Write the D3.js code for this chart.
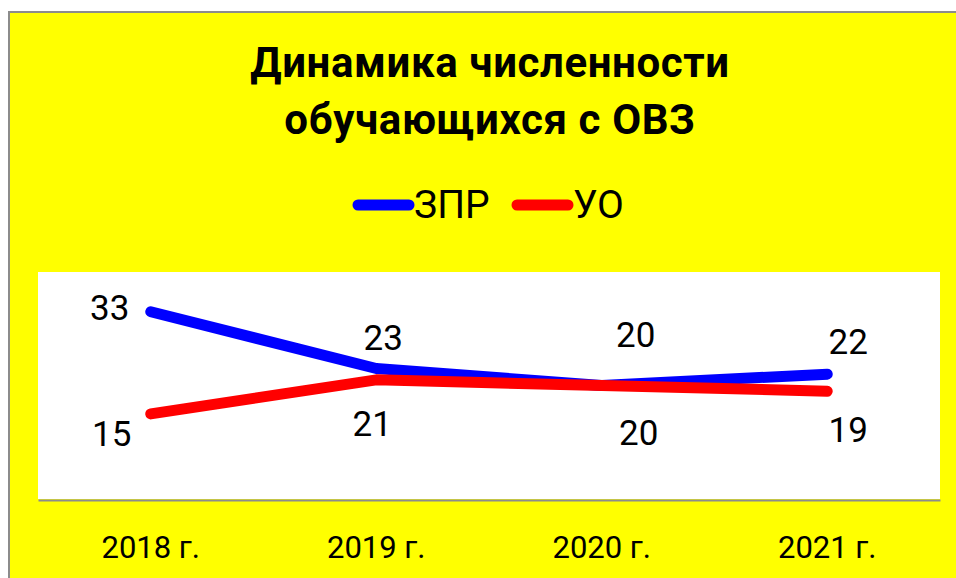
<!DOCTYPE html>
<html>
<head>
<meta charset="utf-8">
<script src="https://cdn.jsdelivr.net/npm/d3@7"></script>
<style>
  html, body { margin: 0; padding: 0; background: #fff; }
  svg { display: block; font-family: Roboto, "Noto Sans", sans-serif; }
</style>
</head>
<body>
<svg id="chart" width="956" height="578"></svg>
<script>
const years = ["2018 г.", "2019 г.", "2020 г.", "2021 г."];
const zprValues = [33, 23, 20, 22];
const uoValues = [15, 21, 20, 19];
const titleLines = ["Динамика численности", "обучающихся с ОВЗ"];

// manual label placement (offset from point: dx, baseline dy), as in the original
const zprLabelOffsets = [[-41, 8], [7, -18], [34, -39], [21, -20]];
const uoLabelOffsets = [[-39, 32], [-4, 56], [37, 59], [21, 51]];

const series = [
    { name: "ЗПР", values: zprValues, color: "#0000ff", offsets: zprLabelOffsets },
    { name: "УО", values: uoValues, color: "#ff0000", offsets: uoLabelOffsets }
];

const svg = d3.select("#chart");

// chart frame
svg.append("rect")
    .attr("x", 9).attr("y", 12)
    .attr("width", 960).attr("height", 580)
    .attr("fill", "#ffff00")
    .attr("stroke", "#8c8c8c")
    .attr("stroke-width", 2);

// title
svg.append("text")
    .attr("x", 490)
    .attr("text-anchor", "middle")
    .attr("font-weight", "bold")
    .attr("font-size", 42)
    .attr("letter-spacing", 0.6)
    .selectAll("tspan")
    .data(titleLines)
    .enter()
    .append("tspan")
    .attr("x", 490)
    .attr("y", (d, i) => 77 + i * 56.5)
    .text((d) => d);

// legend
const legendItems = [{ x: 353, text: 414 }, { x: 512, text: 573 }];
const legend = svg.append("g");
series.forEach((s, i) => {
    legend.append("line")
        .attr("x1", legendItems[i].x + 5)
        .attr("x2", legendItems[i].x + 56)
        .attr("y1", 205).attr("y2", 205)
        .attr("stroke", s.color)
        .attr("stroke-width", 11)
        .attr("stroke-linecap", "round");
    legend.append("text")
        .attr("x", legendItems[i].text)
        .attr("y", 218)
        .attr("font-size", 39)
        .attr("fill", "#000")
        .text(s.name);
});

// plot area
const plot = { left: 38, right: 940, top: 272, bottom: 499 };

svg.append("rect")
    .attr("x", plot.left).attr("y", plot.top)
    .attr("width", plot.right - plot.left)
    .attr("height", plot.bottom - plot.top)
    .attr("fill", "#fff");

const x = d3.scaleBand()
    .domain(years)
    .range([plot.left, plot.right]);

const y = d3.scaleLinear()
    .domain([0, 40])
    .range([plot.bottom, plot.top]);

const xAxis = svg.append("g")
    .attr("transform", `translate(0,${plot.bottom + 1})`)
    .call(d3.axisBottom(x).tickSize(0).tickPadding(38));

xAxis.select(".domain")
    .attr("stroke", "#8c8c8c")
    .attr("stroke-width", 2);

xAxis.selectAll(".tick text")
    .attr("font-family", "Roboto, sans-serif")
    .attr("font-size", 31)
    .attr("fill", "#000")
    .attr("dy", 0)
    .attr("y", 58);

const line = d3.line()
    .x((d, i) => x(years[i]) + x.bandwidth() / 2)
    .y((d) => y(d));

series.forEach((s) => {
    svg.append("path")
        .datum(s.values)
        .attr("d", line)
        .attr("fill", "none")
        .attr("stroke", s.color)
        .attr("stroke-width", 11)
        .attr("stroke-linecap", "round")
        .attr("stroke-linejoin", "round");
});

series.forEach((s) => {
    svg.append("g")
        .selectAll("text")
        .data(s.values)
        .enter()
        .append("text")
        .attr("x", (d, i) => x(years[i]) + x.bandwidth() / 2 + s.offsets[i][0])
        .attr("y", (d, i) => y(d) + s.offsets[i][1])
        .attr("text-anchor", "middle")
        .attr("font-size", 35)
        .attr("fill", "#000")
        .text((d) => d);
});
</script>
</body>
</html>
